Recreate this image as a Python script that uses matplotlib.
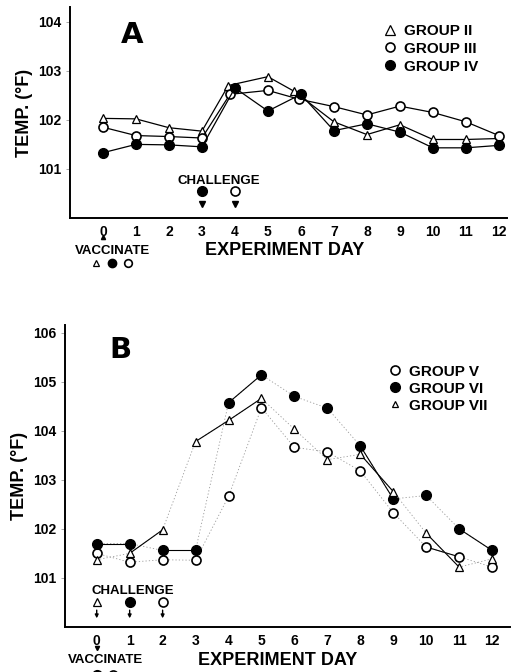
import numpy as np
import matplotlib.pyplot as plt
from matplotlib.lines import Line2D

plt.rcParams['font.family'] = ['Liberation Sans', 'DejaVu Sans']
plt.rcParams['font.weight'] = 'bold'

# panel A data
days = np.arange(13)
days_a2 = [0, 1, 2, 3, 3.8, 5, 5.8, 7, 8, 9, 10, 11, 12]
days_a3 = [0, 1, 2, 3, 3.85, 5, 5.95, 7, 8, 9, 10, 11, 12]
grp2 = [102.03, 102.02, 101.84, 101.77, 102.7, 102.88, 102.58, 101.96, 101.7, 101.9, 101.6, 101.6, 101.62]
grp3 = [101.85, 101.68, 101.66, 101.63, 102.52, 102.6, 102.42, 102.27, 102.1, 102.28, 102.15, 101.96, 101.68]
grp4 = [101.33, 101.5, 101.49, 101.45, 102.65, 102.18, 102.52, 101.78, 101.92, 101.75, 101.43, 101.43, 101.48]

# panel B data
grp5 = [101.5, 101.32, 101.37, 101.36, 102.66, 104.47, 103.66, 103.57, 103.18, 102.33, 101.63, 101.43, 101.22]
grp6 = [101.7, 101.7, 101.56, 101.56, 104.57, 105.14, 104.7, 104.46, 103.69, 102.61, 102.68, 102.0, 101.56]
grp7 = [101.37, 101.5, 101.98, 103.78, 104.21, 104.66, 104.03, 103.41, 103.52, 102.76, 101.91, 101.22, 101.39]
# segments drawn solid in panel B (start index)
solid5 = [10]
solid6 = [0, 2, 4, 8, 11]
solid7 = [1, 3, 4, 8, 10]

fig = plt.figure(figsize=(5.18, 6.72), dpi=100)
axA = fig.add_axes([0.135, 0.6756, 0.844, 0.314])
axB = fig.add_axes([0.125, 0.067, 0.86, 0.449])

tri = dict(marker='^', mfc='white', mec='black', ms=6, mew=0.9)
opn = dict(marker='o', mfc='white', mec='black', ms=6.5, mew=1.2)
fil = dict(marker='o', mfc='black', mec='black', ms=7)

for ax in (axA, axB):
    for s in ('top', 'right'):
        ax.spines[s].set_visible(False)
    ax.spines['left'].set_linewidth(1.4)
    ax.spines['bottom'].set_linewidth(1.4)
    ax.set_xticks(days)
    ax.tick_params(axis='x', length=0, pad=5, labelsize=10)
    ax.tick_params(axis='y', length=3, width=0.6, color='#999999', labelsize=10, pad=3)

# ---- panel A ----
axA.plot(days_a2, grp2, color='black', lw=0.9, **tri)
axA.plot(days_a3, grp3, color='black', lw=0.9, **opn)
axA.plot(days, grp4, color='black', lw=0.9, **fil)
axA.set_xlim(-1, 12.25)
axA.set_ylim(100, 104.3)
axA.set_yticks([101, 102, 103, 104])
for t in axA.get_xticklabels() + axA.get_yticklabels():
    t.set_fontweight('bold')
axA.text(0.55, 103.57, 'A', fontsize=21, fontweight='heavy', family='DejaVu Sans')
axA.text(3.5, 100.76, 'CHALLENGE', ha='center', va='center', fontsize=9.5)
axA.plot([3], [100.54], ls='none', **fil)
axA.plot([4], [100.54], ls='none', **opn)
axA.plot([3, 4], [100.28, 100.28], ls='none', marker='v', color='black', ms=4)
axA.text(0.3, 99.33, 'VACCINATE', ha='center', va='center', fontsize=9.5, clip_on=False)
axA.plot([0], [99.62], marker='^', color='black', ms=3, clip_on=False)
axA.plot([-0.2], [99.08], clip_on=False, **{**tri, 'ms': 5})
axA.plot([0.27], [99.08], clip_on=False, **{**fil, 'ms': 6})
axA.plot([0.75], [99.08], clip_on=False, **{**opn, 'ms': 5.5})
axA.text(5.5, 99.33, 'EXPERIMENT DAY', ha='center', va='center', fontsize=13, clip_on=False)
axA.set_ylabel('TEMP. (°F)', fontsize=13, fontweight='bold', labelpad=4)
hA = [Line2D([], [], ls='none', **{**tri, 'ms': 6.5}),
      Line2D([], [], ls='none', **opn),
      Line2D([], [], ls='none', **fil)]
axA.legend(hA, ['GROUP II', 'GROUP III', 'GROUP IV'], loc='upper right',
           bbox_to_anchor=(0.965, 0.985), frameon=False, handlelength=0.8,
           handletextpad=0.5, labelspacing=0.25, prop={'weight': 'bold', 'size': 11})

# ---- panel B ----
for y, st, solid in ((grp5, opn, solid5), (grp6, fil, solid6), (grp7, tri, solid7)):
    axB.plot(days, y, color='#999999', lw=0.6, ls=(0, (1.5, 2.5)))
    for i in solid:
        axB.plot(days[i:i + 2], y[i:i + 2], color='black', lw=0.8)
    axB.plot(days, y, ls='none', **st)
axB.set_xlim(-0.97, 12.55)
axB.set_ylim(100, 106.15)
axB.set_yticks([101, 102, 103, 104, 105, 106])
for t in axB.get_xticklabels() + axB.get_yticklabels():
    t.set_fontweight('bold')
axB.text(0.38, 105.49, 'B', fontsize=21, fontweight='heavy', family='DejaVu Sans')
axB.text(1.1, 100.74, 'CHALLENGE', ha='center', va='center', fontsize=9.5)
axB.plot([0], [100.51], ls='none', **tri)
axB.plot([1], [100.51], ls='none', **fil)
axB.plot([2], [100.51], ls='none', **opn)
for d in (0, 1, 2):
    axB.annotate('', xy=(d, 100.12), xytext=(d, 100.4),
                 arrowprops=dict(arrowstyle='-|>', color='black', lw=1.0, mutation_scale=5))
axB.text(0.27, 99.32, 'VACCINATE', ha='center', va='center', fontsize=9.5, clip_on=False)
axB.plot([0], [99.58], marker='v', color='black', ms=3, clip_on=False)
axB.plot([0.0], [99.02], clip_on=False, **fil)
axB.plot([0.5], [99.02], clip_on=False, **opn)
axB.text(5.5, 99.32, 'EXPERIMENT DAY', ha='center', va='center', fontsize=13, clip_on=False)
axB.set_ylabel('TEMP. (°F)', fontsize=13, fontweight='bold', labelpad=4)
hB = [Line2D([], [], ls='none', **opn),
      Line2D([], [], ls='none', **fil),
      Line2D([], [], ls='none', **{**tri, 'ms': 5})]
axB.legend(hB, ['GROUP V', 'GROUP VI', 'GROUP VII'], loc='upper right',
           bbox_to_anchor=(0.98, 0.915), frameon=False, handlelength=0.8,
           handletextpad=0.5, labelspacing=0.2, prop={'weight': 'bold', 'size': 11})

fig.savefig('out.png', dpi=100)
